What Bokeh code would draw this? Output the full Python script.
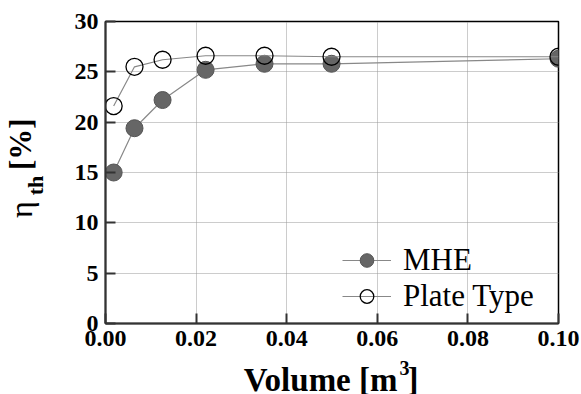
import numpy as np
from bokeh.plotting import figure
from bokeh.layouts import column, row
from bokeh.models import Range1d, Label, Legend, LegendItem, FixedTicker
from bokeh.embed import file_html
from bokeh.resources import INLINE

volume = [0.0018, 0.0064, 0.0126, 0.0221, 0.0351, 0.0499, 0.1]
mhe = [15.0, 19.4, 22.2, 25.2, 25.8, 25.8, 26.3]
plate = [21.6, 25.5, 26.2, 26.6, 26.6, 26.5, 26.5]
x_ticks = [0.0, 0.02, 0.04, 0.06, 0.08, 0.10]
y_ticks = [0, 5, 10, 15, 20, 25, 30]

FONT = "Liberation Serif"

p = figure(width=536, height=358, output_backend="svg", toolbar_location=None,
           x_range=Range1d(0, 0.1), y_range=Range1d(0, 30),
           min_border_left=60, min_border_right=23, min_border_top=21, min_border_bottom=35)
p.background_fill_color = "white"
p.border_fill_color = "white"
p.outline_line_color = "black"
p.outline_line_width = 1.5

for ax in (p.xaxis[0], p.yaxis[0]):
    ax.axis_line_color = "#333333"
    ax.axis_line_width = 2
    ax.major_tick_in = 10
    ax.major_tick_out = 0
    ax.major_tick_line_color = "#333333"
    ax.major_tick_line_width = 2
    ax.minor_tick_line_color = None
    ax.major_label_text_font = FONT
    ax.major_label_text_font_style = "bold"
    ax.major_label_text_font_size = "24px"
    ax.major_label_text_color = "black"

p.xaxis[0].ticker = FixedTicker(ticks=x_ticks)
p.yaxis[0].ticker = FixedTicker(ticks=y_ticks)
p.xaxis[0].major_label_overrides = {t: f"{t:.2f}" for t in x_ticks}
p.xaxis[0].major_label_standoff = 7
p.yaxis[0].major_label_standoff = 7

for g in (p.xgrid[0], p.ygrid[0]):
    g.grid_line_color = "#999999"
    g.grid_line_dash = "1 1"
    g.grid_line_width = 1

l1 = p.line(volume, mhe, line_color="#888888", line_width=1.2)
s1 = p.scatter(volume, mhe, size=17, fill_color="#666666", line_color="#555555", line_width=1)
l2 = p.line(volume, plate, line_color="#888888", line_width=1.2)
s2 = p.scatter(volume, plate, size=17, fill_color="white", fill_alpha=0, line_color="black", line_width=1.3)

legend = Legend(items=[LegendItem(label="MHE", renderers=[l1, s1]),
                       LegendItem(label="Plate Type", renderers=[l2, s2])],
                location=(237, 9), padding=0, margin=0, spacing=0,
                glyph_width=49, glyph_height=34, label_height=34, label_standoff=12,
                background_fill_alpha=0, border_line_color=None,
                label_text_font=FONT, label_text_font_size="31px", label_text_color="black")
p.add_layout(legend)


def text_panel(w, h):
    f = figure(width=w, height=h, output_backend="svg", toolbar_location=None,
               x_range=Range1d(0, w), y_range=Range1d(h, 0),
               x_axis_type=None, y_axis_type=None, min_border=0)
    f.outline_line_color = None
    f.grid.visible = False
    f.background_fill_color = "white"
    f.border_fill_color = "white"
    return f


def lab(f, x, y, text, size, bold=True, align="left", angle=0.0):
    f.add_layout(Label(x=x, y=y, text=text, angle=angle,
                       text_font=FONT, text_font_style="bold" if bold else "normal",
                       text_font_size=size, text_align=align, text_baseline="middle",
                       text_color="black"))

# y-axis title panel (left of the chart)
ylab = text_panel(45, 358)
lab(ylab, 20, 233, "η", "32px", bold=False, angle=np.pi/2)
lab(ylab, 35, 206, "th", "22px", angle=np.pi/2)
lab(ylab, 20, 176, "[%]", "31px", angle=np.pi/2)

# x-axis title panel (below the chart)
xlab = text_panel(581, 36)
lab(xlab, 397, 21, "Volume [m", "33px", align="right")
lab(xlab, 399, 9, "3", "20px")
lab(xlab, 407, 21, "]", "33px")

layout = column(row(ylab, p, spacing=0), xlab, spacing=0)

open("out.html", "w").write(file_html(layout, INLINE))
